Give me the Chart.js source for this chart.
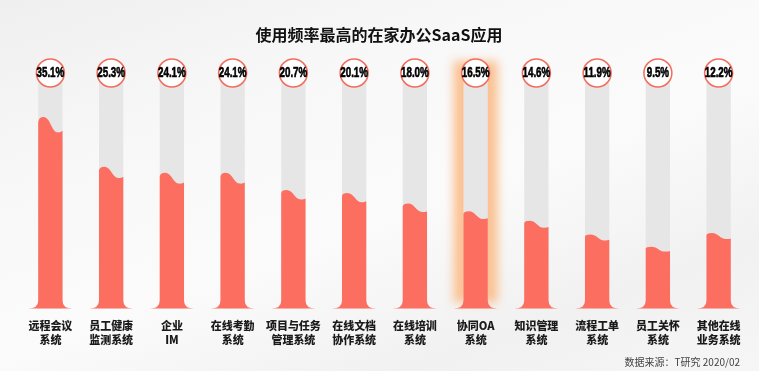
<!DOCTYPE html>
<html>
<head>
<meta charset="utf-8">
<script src="https://cdn.jsdelivr.net/npm/chart.js@4.4.1/dist/chart.umd.min.js"></script>
<style>
  html, body { margin: 0; padding: 0; }
  body {
    width: 759px; height: 371px; overflow: hidden;
    background: linear-gradient(160deg, #efefef 0%, #f8f8f8 30%, #fbfbfb 55%, #f1f1f1 80%, #f6f6f6 100%);
  }
  canvas { display: block; }
</style>
</head>
<body>
<canvas id="chart" width="759" height="371"></canvas>
<script>
const TITLE = '使用频率最高的在家办公SaaS应用';
const SOURCE = '数据来源：T研究 2020/02';

const categories = [
  ['远程会议', '系统'],
  ['员工健康', '监测系统'],
  ['企业', 'IM'],
  ['在线考勤', '系统'],
  ['项目与任务', '管理系统'],
  ['在线文档', '协作系统'],
  ['在线培训', '系统'],
  ['协同OA', '系统'],
  ['知识管理', '系统'],
  ['流程工单', '系统'],
  ['员工关怀', '系统'],
  ['其他在线', '业务系统'],
];
const values = [35.1, 25.3, 24.1, 24.1, 20.7, 20.1, 18.0, 16.5, 14.6, 11.9, 9.5, 12.2];
const highlightIndex = 7;

const Y_MIN = -2.7;
const Y_MAX = 43.4;

const COLORS = {
  fill:   '#fb6e60',
  tube:   '#e6e6e6',
  ring:   '#f26c5c',
  glow:   '#fbc293',
  text:   '#1a1a1a',
  source: '#444444',
};

// draws the tubes, wavy fills, percent bubbles and the extra texts
const tubePlugin = {
  id: 'tubes',
  beforeDatasetsDraw(chart) {
    const { ctx, chartArea } = chart;
    const bars = chart.getDatasetMeta(0).data;

    // glow behind the highlighted column
    const hb = bars[highlightIndex];
    if (hb) {
      ctx.save();
      ctx.filter = 'blur(5px)';
      ctx.fillStyle = COLORS.glow;
      ctx.fillRect(hb.x - hb.width / 2 - 10, chartArea.top - 14, hb.width + 20, hb.base - chartArea.top + 8);
      ctx.restore();
    }

    ctx.save();
    ctx.fillStyle = COLORS.tube;
    bars.forEach(b => {
      ctx.fillRect(b.x - b.width / 2, chartArea.top, b.width, b.base - chartArea.top);
    });
    ctx.restore();
  },
  afterDatasetsDraw(chart) {
    const { ctx, chartArea } = chart;
    const bars = chart.getDatasetMeta(0).data;

    bars.forEach((b, i) => {
      const w = b.width;
      const x0 = b.x - w / 2;
      const x1 = b.x + w / 2;
      const y = b.y;
      const bottom = b.base;
      const a = Math.max(4, (bottom - y) * 0.08);
      const flareTop = bottom - 8;
      const flareW = 10;

      ctx.save();
      ctx.fillStyle = COLORS.fill;
      ctx.beginPath();
      ctx.moveTo(x0, y + 0.35 * a);
      ctx.quadraticCurveTo(x0 + 0.02 * w, y, x0 + 0.22 * w, y);
      ctx.bezierCurveTo(x0 + 0.5 * w, y, x0 + 0.55 * w, y + a, x0 + 0.8 * w, y + a);
      ctx.quadraticCurveTo(x0 + 0.92 * w, y + a * 1.03, x1, y + 0.9 * a);
      ctx.lineTo(x1, flareTop);
      ctx.quadraticCurveTo(x1, bottom, x1 + flareW, bottom);
      ctx.lineTo(x0 - flareW, bottom);
      ctx.quadraticCurveTo(x0, bottom, x0, flareTop);
      ctx.closePath();
      ctx.fill();
      ctx.restore();

      // percent bubble
      const cy = chartArea.top - 2;
      ctx.save();
      ctx.beginPath();
      ctx.arc(b.x, cy, 14, 0, Math.PI * 2);
      ctx.fillStyle = '#ffffff';
      ctx.fill();
      ctx.lineWidth = 1.5;
      ctx.strokeStyle = COLORS.ring;
      ctx.stroke();
      ctx.translate(b.x, cy + 0.5);
      ctx.scale(0.7, 1);
      ctx.fillStyle = '#000000';
      ctx.font = "bold 14px 'Liberation Sans', Arial, sans-serif";
      ctx.textAlign = 'center';
      ctx.textBaseline = 'middle';
      ctx.lineWidth = 0.6;
      ctx.strokeStyle = '#000000';
      const label = values[i].toFixed(1) + '%';
      ctx.fillText(label, 0, 0);
      ctx.strokeText(label, 0, 0);
      ctx.restore();
    });
  },
  afterDraw(chart) {
    const { ctx } = chart;
    ctx.save();
    ctx.fillStyle = '#111111';
    ctx.font = "bold 16px 'Noto Sans CJK SC', sans-serif";
    ctx.textAlign = 'center';
    ctx.textBaseline = 'middle';
    ctx.fillText(TITLE, 379, 35);

    ctx.fillStyle = COLORS.source;
    ctx.font = "10px 'Noto Sans CJK SC', sans-serif";
    ctx.textAlign = 'right';
    ctx.fillText(SOURCE, 740, 362);
    ctx.restore();
  }
};

new Chart(document.getElementById('chart'), {
  type: 'bar',
  data: {
    labels: categories,
    datasets: [{
      data: values,
      base: Y_MIN,
      backgroundColor: 'rgba(0,0,0,0)',
      borderWidth: 0,
      barPercentage: 0.4,
      categoryPercentage: 1,
    }]
  },
  options: {
    responsive: false,
    animation: false,
    devicePixelRatio: 1,
    layout: { padding: { top: 75, left: 20, right: 10, bottom: 14 } },
    plugins: {
      legend: { display: false },
      tooltip: { enabled: false },
      title: { display: false },
    },
    scales: {
      x: {
        grid: { display: false, drawTicks: false },
        border: { display: false },
        ticks: {
          autoSkip: false,
          maxRotation: 0,
          padding: 10,
          color: COLORS.text,
          font: { family: "'Noto Sans CJK SC', sans-serif", size: 11, weight: '900', lineHeight: 1.3 },
        }
      },
      y: { display: false, min: Y_MIN, max: Y_MAX }
    }
  },
  plugins: [tubePlugin]
});
</script>
</body>
</html>
